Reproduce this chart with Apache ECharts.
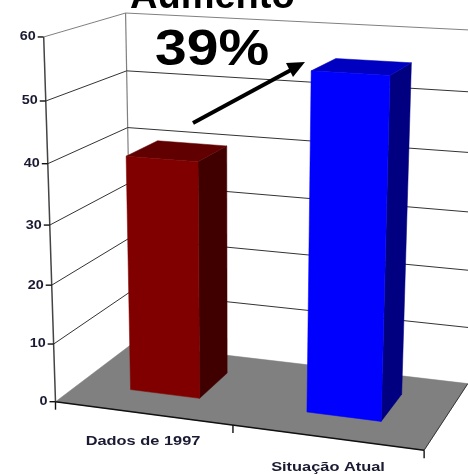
<!DOCTYPE html>
<html><head><meta charset="utf-8">
<style>html,body{margin:0;padding:0;background:#fff}#c{width:468px;height:475px;filter:blur(0.4px)}</style>
<script src="https://cdn.jsdelivr.net/npm/echarts@6/dist/echarts.min.js"></script>
</head><body><div id="c"></div>
<script>
var categories = ['Dados de 1997', 'Situação Atual'];
var seriesValues = [40, 55.6];
var yTicks = [0, 10, 20, 30, 40, 50, 60];
var titleText = 'Aumento';
var increaseText = '39%';

// Perspective of the 3D box: anchors (u along categories, d depth, w height) -> screen
var anchors = [
  [0,0,0, 57,401],[1,0,0, 424,451],[0,1,0, 130,345],[1,1,0, 468,383],
  [0,0,1, 42,37],[0,1,1, 127,13],[1,1,1, 482,31],
  [0,0,0.5, 50,225],[0,1,0.5, 129,183],[1,1,0.5, 475,212]
];
function solve(A,b){
  var n=b.length,M=A.map(function(r,i){return r.concat([b[i]]);});
  for(var i=0;i<n;i++){
    var p=i;for(var k=i+1;k<n;k++)if(Math.abs(M[k][i])>Math.abs(M[p][i]))p=k;
    var t=M[i];M[i]=M[p];M[p]=t;
    for(var k=0;k<n;k++){if(k===i)continue;var f=M[k][i]/M[i][i];
      for(var j=i;j<=n;j++)M[k][j]-=f*M[i][j];}
  }
  return M.map(function(r,i){return r[n]/r[i];});
}
var H=(function(){
  var rows=[],rhs=[];
  anchors.forEach(function(a){
    var u=a[0],d=a[1],w=a[2],x=a[3],y=a[4];
    rows.push([u,d,w,1,0,0,0,0,-x*u,-x*d,-x*w]);rhs.push(x);
    rows.push([0,0,0,0,u,d,w,1,-y*u,-y*d,-y*w]);rhs.push(y);
  });
  var n=11,A=[],b=[];
  for(var i=0;i<n;i++){A.push([]);var s=0;
    for(var r=0;r<rows.length;r++)s+=rows[r][i]*rhs[r];
    b.push(s);
    for(var j=0;j<n;j++){var q=i===j?1e-9:0;
      for(var r=0;r<rows.length;r++)q+=rows[r][i]*rows[r][j];
      A[i].push(q);}
  }
  return solve(A,b);
})();
function P(u,d,w){
  var t=H[8]*u+H[9]*d+H[10]*w+1;
  return [(H[0]*u+H[1]*d+H[2]*w+H[3])/t,(H[4]*u+H[5]*d+H[6]*w+H[7])/t];
}
function norm(cs,pt){return [(pt[0]-cs.x)/cs.width,(cs.y+cs.height-pt[1])/cs.height];}
function line(p,q,color,w){return {type:'line',shape:{x1:p[0],y1:p[1],x2:q[0],y2:q[1]},style:{stroke:color,lineWidth:w}};}
function poly(pts,color){return {type:'polygon',shape:{points:pts},style:{fill:color,stroke:color,lineWidth:0.5}};}

var LABEL_FONT='bold 12.5px "Liberation Sans", Arial, sans-serif';
var LABEL_COLOR='#1a1a33';
var barHalf=0.1, d0=0.30, d1=0.72;
var barColors=[['#800000','#400000','#600000'],['#0000ff','#000080','#0000c0']];

var chart=echarts.init(document.getElementById('c'),null,{renderer:'canvas'});
chart.setOption({
  animation:false,
  backgroundColor:'#fff',
  title:[
    {text:titleText,left:130,top:-21,padding:0,textStyle:{fontFamily:'Liberation Sans',fontWeight:'bold',fontSize:38,color:'#000'}}
  ],
  grid:{left:60,right:60,top:60,bottom:60},
  xAxis:{type:'category',data:categories,show:false},
  yAxis:{type:'value',min:0,max:60,interval:10,show:false},
  graphic:[
    {type:'text',z:50,x:155,y:76,scaleX:1.14,style:{text:increaseText,x:0,y:0,verticalAlign:'bottom',font:'bold 50px "Liberation Sans", Arial, sans-serif',fill:'#000'}},
    {type:'line',z:50,shape:{x1:193,y1:123,x2:291,y2:70},style:{stroke:'#000',lineWidth:4}},
    {type:'polygon',z:50,shape:{points:[[286,63],[305,62],[293,77]]},style:{fill:'#000'}}
  ],
  series:[
    {type:'custom',name:'floor',z:2,silent:true,data:[[0,0]],
     renderItem:function(p,api){
       var c=[P(0,0,0),P(1,0,0),P(1,1,0),P(0,1,0)];
       return {type:'group',children:[
         poly(c,'#808080'),
         line(c[0],c[1],'#111',1.4),
         line(c[1],c[2],'#333',1),
         line(P(0,1,0),P(0,1,1),'#808080',1.2),
         line(P(0,0,0),P(0,0,1),'#444',1.5)
       ]};
     }},
    {type:'custom',name:'gridlines',z:3,silent:true,
     encode:{x:0,y:1},
     data:yTicks.map(function(v){return [0,v];}),
     renderItem:function(p,api){
       var cs=p.coordSys,w=norm(cs,api.coord([0,api.value(1)]))[1],v=api.value(1);
       var a=P(0,0,w),b=P(0,1,w),c=P(1,1,w);
       var kids=[
         {type:'text',x:a[0]-8,y:a[1],scaleX:1.15,style:{text:String(v),x:0,y:0,align:'right',verticalAlign:'middle',font:LABEL_FONT,fill:LABEL_COLOR}},
         line([a[0]-6,a[1]],a,'#111',1.4)
       ];
       if(v>0){kids.push(line(a,b,v===60?'#808080':'#333',1));kids.push(line(b,c,v===60?'#808080':'#333',1));}
       return {type:'group',children:kids};
     }},
    {type:'custom',name:'categoryTicks',z:3,silent:true,
     data:[[0],[1],[2]],
     renderItem:function(p,api){
       var i=api.value(0),u=i/2,a=P(u,0,0);
       return line(a,[a[0],a[1]+8],'#111',1.4);
     }},
    {type:'custom',name:'bars',z:4,silent:true,
     encode:{x:0,y:1},
     data:seriesValues.map(function(v,i){return [i,v];}),
     renderItem:function(p,api){
       var cs=p.coordSys,i=api.value(0),n=norm(cs,api.coord([i,api.value(1)]));
       var u0=n[0]-barHalf,u1=n[0]+barHalf,w=n[1],col=barColors[i];
       return {type:'group',children:[
         poly([P(u1,d0,0),P(u1,d1,0),P(u1,d1,w),P(u1,d0,w)],col[1]),
         poly([P(u0,d0,w),P(u1,d0,w),P(u1,d1,w),P(u0,d1,w)],col[2]),
         poly([P(u0,d0,0),P(u1,d0,0),P(u1,d0,w),P(u0,d0,w)],col[0]),
         {type:'text',x:i?328:143,y:i?468:441.5,scaleX:1.31,style:{text:categories[i],x:0,y:0,align:'center',verticalAlign:'middle',font:LABEL_FONT,fill:LABEL_COLOR}}
       ]};
     }}
  ]
});
</script></body></html>
